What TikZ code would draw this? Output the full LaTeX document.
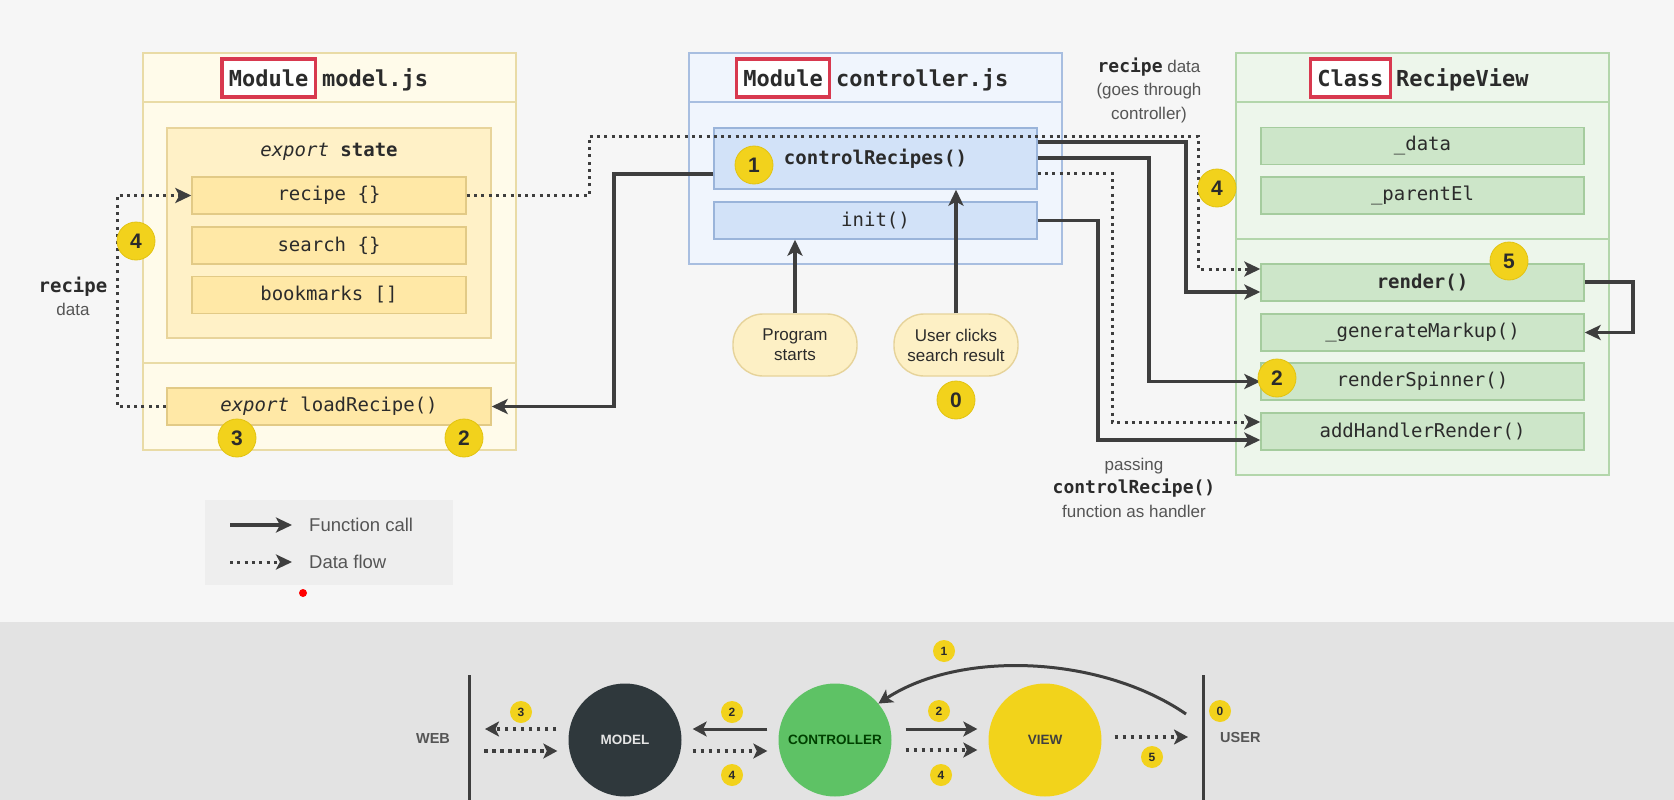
\documentclass[tikz,border=0pt]{standalone}
\usepackage{fontspec}
\setmainfont{Liberation Sans}
\setmonofont{DejaVu Sans Mono}[BoldFont={DejaVu Sans Mono Bold},ItalicFont={DejaVu Sans Mono Oblique},BoldItalicFont={DejaVu Sans Mono Bold Oblique}]
\usetikzlibrary{arrows.meta,calc}
\definecolor{bg}{HTML}{F6F6F6}
\definecolor{band}{HTML}{E3E3E3}
\definecolor{mOut}{HTML}{FFFBEA}
\definecolor{mOutB}{HTML}{E9DBA6}
\definecolor{mIn}{HTML}{FFF1C7}
\definecolor{mInB}{HTML}{E8D49B}
\definecolor{mItem}{HTML}{FFE8A6}
\definecolor{mItemB}{HTML}{E2CA86}
\definecolor{cOut}{HTML}{F0F5FD}
\definecolor{cOutB}{HTML}{A8BEE0}
\definecolor{cItem}{HTML}{D2E2F8}
\definecolor{cItemB}{HTML}{9AB4DA}
\definecolor{vOut}{HTML}{EDF6EB}
\definecolor{vOutB}{HTML}{B3D6AB}
\definecolor{vItem}{HTML}{CDE6C9}
\definecolor{vItemB}{HTML}{A5CC9E}
\definecolor{redB}{HTML}{D8394F}
\definecolor{badgeY}{HTML}{F2D21C}
\definecolor{badgeD}{HTML}{E2C312}
\definecolor{arrowC}{HTML}{3E3E3E}
\definecolor{txtD}{HTML}{2B2B2B}
\definecolor{txtG}{HTML}{555555}
\definecolor{pillF}{HTML}{FDF0C5}
\definecolor{pillB}{HTML}{E6D39A}
\definecolor{modelC}{HTML}{2F383C}
\definecolor{ctrlC}{HTML}{5EC265}
\definecolor{viewC}{HTML}{F2D31B}
\definecolor{legF}{HTML}{EEEEEE}
\tikzset{
  hdr/.style={font=\ttfamily\bfseries\fontsize{22}{26}\selectfont, text=txtD},
  redbox/.style={draw=redB, line width=3.3pt, fill=white, inner xsep=7pt, inner ysep=7pt, text height=20pt, text depth=4pt},
  hname/.style={inner sep=0pt},
  box/.style={line width=1.4pt, inner sep=0pt, font=\ttfamily\fontsize{19}{23}\selectfont, text=txtD},
  modout/.style={box, fill=mOut, draw=mOutB},
  modin/.style={box, fill=mIn, draw=mInB},
  moditem/.style={box, fill=mItem, draw=mItemB, minimum width=274pt, minimum height=37pt},
  ctlout/.style={box, fill=cOut, draw=cOutB},
  ctlitem/.style={box, fill=cItem, draw=cItemB, minimum width=323pt},
  viewout/.style={box, fill=vOut, draw=vOutB},
  viewitem/.style={box, fill=vItem, draw=vItemB, minimum width=323pt, minimum height=37pt},
  pill/.style={fill=pillF, draw=pillB, line width=1.4pt, rounded corners=30pt, minimum width=124pt, minimum height=62pt, align=center, inner sep=0pt, font=\fontsize{17}{20}\selectfont, text=txtD},
  badge/.style={circle, fill=badgeY, draw=badgeD, line width=0.8pt, minimum size=38pt, inner sep=0pt, font=\bfseries\fontsize{21}{21}\selectfont, text=txtD},
  sbadge/.style={circle, fill=badgeY, minimum size=22pt, inner sep=0pt, font=\bfseries\fontsize{12}{12}\selectfont, text=txtD},
  fcall/.style={draw=arrowC, line width=3.2pt, -{Stealth[length=16pt,width=15pt,inset=4pt]}},
  dflow/.style={draw=arrowC, line width=3pt, dash pattern=on 3pt off 4.3pt, -{Stealth[length=16pt,width=15pt,inset=4pt]}},
  sfcall/.style={draw=arrowC, line width=3pt, -{Stealth[length=14pt,width=15pt,inset=3.5pt]}},
  sdflow/.style={draw=arrowC, line width=3.4pt, dash pattern=on 3.5pt off 4.5pt, -{Stealth[length=14pt,width=15pt,inset=3.5pt]}},
  lbl/.style={align=center, inner sep=0pt, font=\fontsize{17}{23.5}\selectfont, text=txtG},
  leg/.style={anchor=west, inner sep=0pt, font=\fontsize{18.5}{22}\selectfont, text=txtG},
  bigc/.style={circle, minimum size=113pt, inner sep=0pt, font=\bfseries\fontsize{13.5}{14}\selectfont},
  side/.style={inner sep=0pt, font=\bfseries\fontsize{14.5}{16}\selectfont, text=txtG},
  sep/.style={draw=arrowC, line width=3pt}
}
\begin{document}
\begin{tikzpicture}[x=1pt,y=-1pt]
\useasboundingbox (0,0) rectangle (1674,800);
\fill[bg] (0,0) rectangle (1674,622);
\fill[band] (0,622) rectangle (1674,800);

% ---------- model.js ----------
\node[modout, minimum width=373pt, minimum height=397pt] (model) at (329.5,251.5) {};
\draw[mOutB, line width=1.4pt] (model.west |- 0,102) -- (model.east |- 0,102);
\draw[mOutB, line width=1.4pt] (model.west |- 0,363) -- (model.east |- 0,363);
\node[hdr, redbox, anchor=base west] (mhA) at (220.2,86) {Module};
\node[hdr, hname, anchor=base west] (mhB) at (322,86) {model.js};
\node[modin, minimum width=324pt, minimum height=210pt] (state) at (329,233) {};
\node[box, inner sep=0pt] (stateT) at (329,152) {\itshape export \upshape\bfseries state};
\node[moditem] (recipe) at (329,195.5) {recipe \{\}};
\node[moditem] (search) at (329,245.5) {search \{\}};
\node[moditem] (bookm) at (329,295) {bookmarks []};
\node[moditem, minimum width=324pt] (lr) at (329,406.5) {\itshape export \upshape loadRecipe()};

% ---------- controller.js ----------
\node[ctlout, minimum width=373pt, minimum height=211pt] (ctrl) at (875.5,158.5) {};
\draw[cOutB, line width=1.4pt] (ctrl.west |- 0,102) -- (ctrl.east |- 0,102);
\node[hdr, redbox, anchor=base west] (chA) at (734.7,86) {Module};
\node[hdr, hname, anchor=base west] (chB) at (836,86) {controller.js};
\node[ctlitem, minimum height=61pt] (cr) at (875.5,158.5) {\bfseries controlRecipes()};
\node[ctlitem, minimum height=37pt] (init) at (875.5,220.5) {init()};
\node[pill] (ps) at (795,345) {Program\\starts};
\node[pill] (uc) at (956,345) {User clicks\\search result};

% ---------- RecipeView ----------
\node[viewout, minimum width=373pt, minimum height=422pt] (view) at (1422.5,264) {};
\draw[vOutB, line width=1.4pt] (view.west |- 0,102) -- (view.east |- 0,102);
\draw[vOutB, line width=1.4pt] (view.west |- 0,239) -- (view.east |- 0,239);
\node[hdr, redbox, anchor=base west] (vhA) at (1308.6,86) {Class};
\node[hdr, hname, anchor=base west] (vhB) at (1396,86) {RecipeView};
\node[viewitem] (data) at (1422.5,146) {\_data};
\node[viewitem] (pel) at (1422.5,195.5) {\_parentEl};
\node[viewitem] (render) at (1422.5,282.5) {\bfseries render()};
\node[viewitem] (gm) at (1422.5,332.5) {\_generateMarkup()};
\node[viewitem] (rs) at (1422.5,381.5) {renderSpinner()};
\node[viewitem] (ah) at (1422.5,431.5) {addHandlerRender()};

% ---------- labels ----------
\node[lbl] (lblL) at (73,296.5) {{\ttfamily\bfseries\fontsize{19}{23.5}\selectfont\color{txtD}recipe}\\data};
\node[lbl] (lblT) at (1149,90) {{\ttfamily\bfseries\fontsize{18}{23.5}\selectfont\color{txtD}recipe} data\\(goes through\\controller)};
\node[lbl] (lblB) at (1134,487.5) {passing\\{\ttfamily\bfseries\fontsize{18}{23.5}\selectfont\color{txtD}controlRecipe()}\\function as handler};

% ---------- connectors ----------
\coordinate (a1) at (117,406.5);
\draw[dflow] (lr.west) -- (a1) |- (recipe.west);
\coordinate (b1) at (589,136);
\coordinate (b2) at (1198,136);
\draw[dflow] (recipe.east) -| (b1) -- (b2) |- ($(render.west)+(0,-13.5)$);
\coordinate (c1) at (614,174);
\draw[fcall] ($(cr.west)+(0,15.5)$) -- (c1) |- (lr.east);
\coordinate (d1) at (1186,142);
\draw[fcall] ($(cr.east)+(0,-16.5)$) -- (d1) |- ($(render.west)+(0,9.5)$);
\coordinate (e1) at (1149,158);
\draw[fcall] ($(cr.east)+(0,-0.5)$) -- (e1) |- (rs.west);
\coordinate (f1) at (1112,173);
\draw[dflow] ($(cr.east)+(0,14.5)$) -- (f1) |- ($(ah.west)+(0,-9.5)$);
\coordinate (g1) at (1098,220.5);
\draw[fcall] (init.east) -- (g1) |- ($(ah.west)+(0,8.5)$);
\coordinate (h1) at (1633,282);
\draw[fcall] ($(render.east)+(0,-0.5)$) -- (h1) |- (gm.east);
\draw[fcall] (ps.north) -- (ps.north |- init.south);
\draw[fcall] (uc.north) -- (uc.north |- cr.south);

% ---------- badges ----------
\node[badge] (bm4) at (136,241) {4};
\node[badge] (bm3) at (237,438) {3};
\node[badge] (bm2) at (464,438) {2};
\node[badge] (bc1) at (754,165) {1};
\node[badge] (bc0) at (956,400) {0};
\node[badge] (bv4) at (1217,188) {4};
\node[badge] (bv5) at (1509,261) {5};
\node[badge] (bv2) at (1277,378) {2};

% ---------- legend ----------
\fill[legF] (205,500) rectangle (453,585);
\coordinate (l1a) at (230,525); \coordinate (l1b) at (292,525);
\coordinate (l2a) at (230,562); \coordinate (l2b) at (292,562);
\draw[fcall] (l1a) -- (l1b);
\draw[dflow] (l2a) -- (l2b);
\node[leg] (legA) at (309,525) {Function call};
\node[leg] (legB) at (309,562) {Data flow};
\fill[red] (303,593) circle (4pt);

% ---------- bottom MVC strip ----------
\node[side] (web) at (433,739) {WEB};
\draw[sep] (469,675) -- (469,800);
\draw[sep] (1203,675) -- (1203,800);
\node[side, anchor=west] (user) at (1220,738) {USER};
\node[bigc, fill=modelC, text=white!90!black] (M) at (625,740) {MODEL};
\node[bigc, fill=ctrlC, text=black!75!green] (C) at (835,740) {CONTROLLER};
\node[bigc, fill=viewC, text=black!75] (V) at (1045,740) {VIEW};
\coordinate (w1) at (485,729); \coordinate (w2) at (484,751);
\draw[sdflow] ($(M.west |- 0,729)+(-12,0)$) -- (w1);
\draw[sdflow] (w2) -- ($(M.west |- 0,751)+(-11,0)$);
\draw[sfcall] ($(C.west |- 0,729)+(-11,0)$) -- ($(M.east |- 0,729)+(11,0)$);
\draw[sdflow] ($(M.east |- 0,751)+(11,0)$) -- ($(C.west |- 0,751)+(-11,0)$);
\draw[sfcall] ($(C.east |- 0,729)+(14,0)$) -- ($(V.west |- 0,729)+(-11,0)$);
\draw[sdflow] ($(C.east |- 0,750)+(14,0)$) -- ($(V.west |- 0,750)+(-11,0)$);
\coordinate (u1) at (1188,737);
\draw[sdflow] ($(V.east |- 0,737)+(13,0)$) -- (u1);
\coordinate (k0) at (1186,714);
\draw[sfcall] (k0) .. controls (1100,655) and (960,650) .. (C.40);
\node[sbadge] (s3) at (521,712) {3};
\node[sbadge] (s2a) at (732,712) {2};
\node[sbadge] (s4a) at (732,775) {4};
\node[sbadge] (s1) at (944,651) {1};
\node[sbadge] (s2b) at (939,711) {2};
\node[sbadge] (s4b) at (941,775) {4};
\node[sbadge] (s5) at (1152,757) {5};
\node[sbadge] (s0) at (1220,711) {0};
\end{tikzpicture}
\end{document}
